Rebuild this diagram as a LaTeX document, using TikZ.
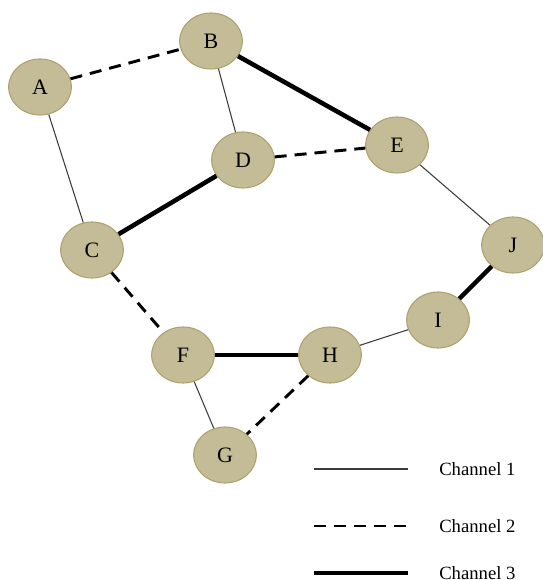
\documentclass[tikz,border=0pt]{standalone}
\usepackage{fontspec}
\setmainfont{Liberation Serif}
\usetikzlibrary{shapes.geometric}
\definecolor{nodefill}{RGB}{196,188,150}
\definecolor{nodeedge}{RGB}{172,162,112}
\definecolor{thinline}{RGB}{60,60,60}
\tikzset{
  netnode/.style={ellipse, fill=nodefill, draw=nodeedge, line width=0.8pt,
    minimum width=47pt, minimum height=42pt, inner sep=0pt, font=\fontsize{16.5}{16.5}\selectfont},
  chone/.style={draw=thinline, line width=0.8pt},
  chtwo/.style={draw=black, line width=2.2pt, dash pattern=on 9pt off 6pt},
  chthree/.style={draw=black, line width=3.4pt},
  legtext/.style={anchor=west, font=\fontsize{14}{14}\selectfont, inner sep=0pt}
}
\begin{document}
\begin{tikzpicture}[x=0.75pt,y=-0.75pt]
\useasboundingbox (0,0) rectangle (542,580);
\node[netnode] (A) at (40,87) {A};
\node[netnode] (B) at (211,41) {B};
\node[netnode] (D) at (243,160) {D};
\node[netnode] (E) at (397,145) {E};
\node[netnode] (C) at (92,250) {C};
\node[netnode] (J) at (513,245) {J};
\node[netnode] (I) at (438,320) {I};
\node[netnode] (F) at (183,355) {F};
\node[netnode] (H) at (330,355) {H};
\node[netnode] (G) at (225,455) {G};
\draw[chtwo] (A) -- (B);
\draw[chthree] (B) -- (E);
\draw[chone] (B) -- (D);
\draw[chone] (A) -- (C);
\draw[chthree] (C) -- (D);
\draw[chtwo] (D) -- (E);
\draw[chone] (E) -- (J);
\draw[chthree] (J) -- (I);
\draw[chone] (I) -- (H);
\draw[chtwo] (C) -- (F);
\draw[chthree] (F) -- (H);
\draw[chone] (F) -- (G);
\draw[chtwo] (H) -- (G);
% legend
\coordinate (l1a) at (314,469); \coordinate (l1b) at (408,469);
\coordinate (l2a) at (314,526); \coordinate (l2b) at (408,526);
\coordinate (l3a) at (314,573); \coordinate (l3b) at (408,573);
\draw[chone] (l1a) -- (l1b);
\draw[chtwo] (l2a) -- (l2b);
\draw[chthree] (l3a) -- (l3b);
\node[legtext] (t1) at (439,469) {Channel 1};
\node[legtext] (t2) at (439,526) {Channel 2};
\node[legtext] (t3) at (439,573) {Channel 3};
\end{tikzpicture}
\end{document}
